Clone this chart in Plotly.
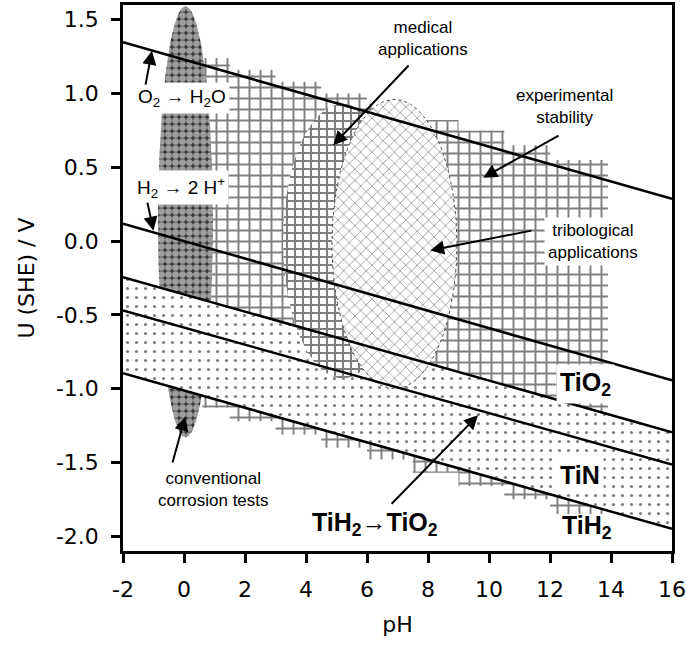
import numpy as np
import plotly.graph_objects as go

# ---------------- data ----------------
ph_ends = [-2, 16]
o2_u = [1.348, 0.286]      # O2 -> H2O line
h2_u = [0.118, -0.944]     # H2 -> 2H+ line
tio2_u = [-0.244, -1.295]  # upper boundary of TiN band
tin_u = [-0.47, -1.514]    # middle line
tih2_u = [-0.895, -1.95]   # lower boundary

# experimental stability region (stepped outline)
stab_edges_ph = [0.6, 1.5, 3.0, 4.5, 6.0, 7.5, 9.0, 10.5, 12.0, 13.9]
stab_top_u = [1.24, 1.16, 1.08, 1.00, 0.93, 0.82, 0.75, 0.65, 0.55]
stab_bot_u = [-1.13, -1.22, -1.31, -1.40, -1.48, -1.57, -1.66, -1.75, -1.85]

# ellipse regions: centre pH, centre U, half width (pH), half height (V)
corrosion_ell = [0.05, 0.13, 0.9, 1.46]
medical_ell = [5.2, 0.0, 1.95, 0.93]
tribo_ell = [6.9, -0.02, 2.05, 0.98]

x_ticks = [-2, 0, 2, 4, 6, 8, 10, 12, 14, 16]
x_ticktext = ["-2", "0", "2", "4", "6", "8", "10", "12", "14", "16"]
y_ticks = [-2.0, -1.5, -1.0, -0.5, 0.0, 0.5, 1.0, 1.5]
y_ticktext = ["-2.0", "-1.5", "-1.0", "-0.5", "0.0", "0.5", "1.0", "1.5"]

FONT = "Liberation Sans, Arial, sans-serif"
TICKFONT = "DejaVu Sans, sans-serif"


def stairs(edges, levels):
    xs, ys = [], []
    for i, lv in enumerate(levels):
        xs += [edges[i], edges[i + 1]]
        ys += [lv, lv]
    return xs, ys


def ellipse(p, n=240):
    t = np.linspace(0, 2 * np.pi, n)
    return p[0] + p[2] * np.cos(t), p[1] + p[3] * np.sin(t)


fig = go.Figure()

# experimental stability grid
tx, ty = stairs(stab_edges_ph, stab_top_u)
bx, by = stairs(stab_edges_ph, stab_bot_u)
fig.add_trace(go.Scatter(
    x=tx + bx[::-1] + [tx[0]], y=ty + by[::-1] + [ty[0]],
    mode="lines", line=dict(width=0), fill="toself", fillcolor="white",
    fillpattern=dict(shape="+", size=11, solidity=0.32, fgcolor="black", bgcolor="white"),
    hoverinfo="skip", showlegend=False))

# conventional corrosion tests (circles)
ex, ey = ellipse(corrosion_ell)
fig.add_trace(go.Scatter(
    x=ex, y=ey, mode="lines", line=dict(width=0), fill="toself", fillcolor="white",
    fillpattern=dict(shape=".", size=7, solidity=0.72, fgcolor="white", bgcolor="#3a3a3a"),
    hoverinfo="skip", showlegend=False))

# dotted band
fig.add_trace(go.Scatter(
    x=[ph_ends[0], ph_ends[1], ph_ends[1], ph_ends[0], ph_ends[0]],
    y=[tio2_u[0], tio2_u[1], tih2_u[1], tih2_u[0], tio2_u[0]],
    mode="lines", line=dict(width=0), fill="toself", fillcolor="white",
    fillpattern=dict(shape=".", size=9, solidity=0.1, fgcolor="black", bgcolor="white"),
    hoverinfo="skip", showlegend=False))

# medical applications
ex, ey = ellipse(medical_ell)
fig.add_trace(go.Scatter(
    x=ex, y=ey, mode="lines", line=dict(width=0), fill="toself", fillcolor="white",
    fillpattern=dict(shape="+", size=8, solidity=0.45, fgcolor="black", bgcolor="white"),
    hoverinfo="skip", showlegend=False))

# tribological applications
ex, ey = ellipse(tribo_ell)
fig.add_trace(go.Scatter(
    x=ex, y=ey, mode="lines", line=dict(width=1, color="#555555", dash="dot"),
    fill="toself", fillcolor="white",
    fillpattern=dict(shape="x", size=8, solidity=0.2, fgcolor="#333333", bgcolor="white"),
    hoverinfo="skip", showlegend=False))

# straight boundary lines
for u in (o2_u, h2_u, tio2_u, tin_u, tih2_u):
    fig.add_trace(go.Scatter(x=ph_ends, y=u, mode="lines",
                             line=dict(color="black", width=2.5),
                             hoverinfo="skip", showlegend=False))

# ---------------- labels ----------------
labels = [
    # text, pH, U, size, bold, white background
    ("medical<br>applications", 7.85, 1.37, 17, False, False),
    ("experimental<br>stability", 12.49, 0.91, 17, False, False),
    ("tribological<br>applications", 13.41, -0.005, 17, False, True),
    ("O<sub>2</sub> → H<sub>2</sub>O", -0.05, 0.967, 19, False, True),
    ("H<sub>2</sub> → 2 H<sup>+</sup>", -0.1, 0.364, 19, False, True),
    ("conventional<br>corrosion tests", 0.96, -1.685, 17, False, False),
    ("TiO<sub>2</sub>", 13.15, -0.965, 25, True, True),
    ("TiN", 12.98, -1.585, 25, True, True),
    ("TiH<sub>2</sub>", 13.21, -1.94, 25, True, False),
    ("TiH<sub>2</sub>→TiO<sub>2</sub>", 6.27, -1.92, 25, True, False),
]
for text, x, y, size, bold, bg in labels:
    fig.add_annotation(
        x=x, y=y, xref="x", yref="y", text=("<b>%s</b>" % text) if bold else text,
        showarrow=False, font=dict(family=FONT, size=size, color="black"),
        bgcolor="white" if bg else "rgba(0,0,0,0)", borderpad=3, align="center")

# arrows: (head pH, head U, tail pH, tail U)
arrows = [
    (-1.05, 1.29, -1.27, 1.05),
    (-1.0, 0.07, -1.21, 0.27),
    (4.89, 0.65, 7.41, 1.20),
    (9.81, 0.43, 12.33, 0.72),
    (8.07, -0.063, 11.44, 0.073),
    (0.04, -1.19, -0.39, -1.51),
    (9.64, -1.18, 6.76, -1.79),
]
for hx, hy, tx_, ty_ in arrows:
    fig.add_annotation(
        x=hx, y=hy, ax=tx_, ay=ty_, xref="x", yref="y", axref="x", ayref="y",
        text="", showarrow=True, arrowhead=2, arrowsize=1.4, arrowwidth=2,
        arrowcolor="black", standoff=0)

axis_common = dict(
    showline=True, linewidth=2.5, linecolor="black", mirror=True,
    ticks="outside", ticklen=9, tickwidth=2.5, tickcolor="black",
    showgrid=False, zeroline=False, automargin=False,
    tickfont=dict(family=TICKFONT, size=22, color="black"),
)

fig.update_layout(
    width=687, height=650,
    margin=dict(l=123, r=15, t=5, b=99),
    paper_bgcolor="white", plot_bgcolor="white",
    xaxis=dict(range=[-2, 16], tickvals=x_ticks, ticktext=x_ticktext,
               ticklabelstandoff=8,
               title=dict(text="pH", font=dict(family=TICKFONT, size=22, color="black"),
                          standoff=16),
               **axis_common),
    yaxis=dict(range=[-2.1, 1.6], tickvals=y_ticks, ticktext=y_ticktext,
               ticklabelstandoff=8,
               title=dict(text="U (SHE) / V", font=dict(family=TICKFONT, size=22, color="black"),
                          standoff=16),
               **axis_common),
)

fig.write_html("out.html")
